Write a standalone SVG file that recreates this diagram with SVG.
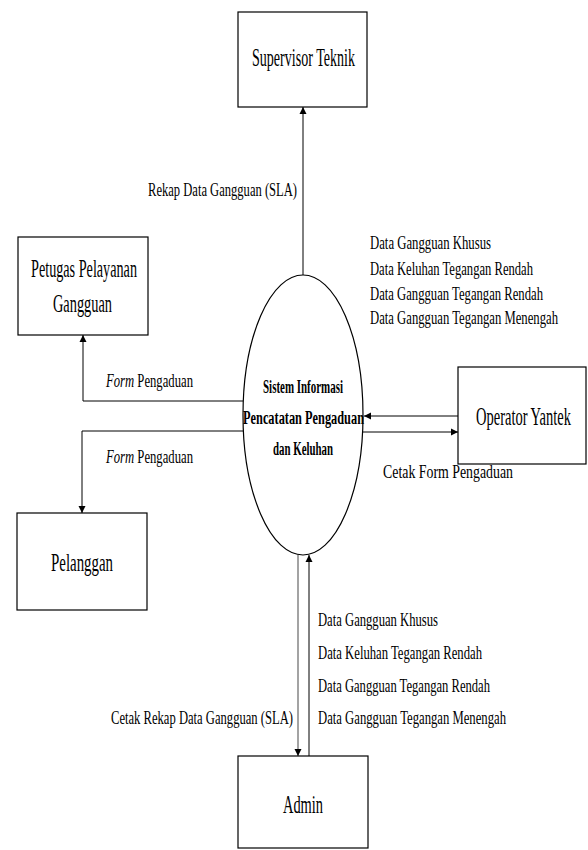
<svg xmlns="http://www.w3.org/2000/svg" width="588" height="850" viewBox="0 0 588 850">
<style>
  .box { fill: #fff; stroke: #000; stroke-width: 1.2; }
  .node { font-family: "Liberation Serif", "Times New Roman", serif; font-size: 25px; fill: #000; }
  .lbl { font-family: "Liberation Serif", "Times New Roman", serif; font-size: 19px; fill: #000; }
  .proc { font-family: "Liberation Serif", "Times New Roman", serif; font-size: 18px; font-weight: bold; fill: #000; }
  .flow { fill: none; stroke: #000; stroke-width: 1; marker-end: url(#arr); }
  .gray { stroke: #8c8c8c; stroke-width: 1.6; }
</style>
<defs>
  <marker id="arr" viewBox="0 0 10 10" refX="10" refY="5" markerWidth="7" markerHeight="8" markerUnits="userSpaceOnUse" orient="auto">
    <path d="M0,0 L10,5 L0,10 z" fill="#000"/>
  </marker>
</defs>
<rect width="588" height="850" fill="#fff"/>

<g id="connectors">
  <line class="flow" x1="303" y1="275" x2="303" y2="107"/>
  <polyline class="flow" points="243,401 83,401 83,335"/>
  <polyline class="flow" points="243,431 82,431 82,513"/>
  <line class="flow" x1="458" y1="416" x2="364" y2="416"/>
  <line class="flow" x1="363" y1="432" x2="458" y2="432"/>
  <line class="flow gray" x1="298" y1="555" x2="298" y2="756"/>
  <line class="flow" x1="309" y1="756" x2="309" y2="555"/>
</g>

<g id="supervisor">
  <rect class="box" x="238" y="12" width="129" height="95"/>
  <text class="node" x="252" y="66" textLength="103" lengthAdjust="spacingAndGlyphs">Supervisor Teknik</text>
</g>

<g id="petugas">
  <rect class="box" x="18" y="237" width="130" height="98"/>
  <text class="node" x="31" y="277" textLength="106" lengthAdjust="spacingAndGlyphs">Petugas Pelayanan</text>
  <text class="node" x="53" y="312" textLength="59" lengthAdjust="spacingAndGlyphs">Gangguan</text>
</g>

<g id="sistem">
  <ellipse cx="303" cy="415" rx="60" ry="140" fill="#fff" stroke="#000" stroke-width="1.2"/>
  <text class="proc" x="263" y="393" textLength="80" lengthAdjust="spacingAndGlyphs">Sistem Informasi</text>
  <text class="proc" x="243" y="424" textLength="121" lengthAdjust="spacingAndGlyphs">Pencatatan Pengaduan</text>
  <text class="proc" x="273" y="455" textLength="60" lengthAdjust="spacingAndGlyphs">dan Keluhan</text>
</g>

<g id="operator">
  <rect class="box" x="458" y="367" width="128" height="97"/>
  <text class="node" x="476" y="425" textLength="95" lengthAdjust="spacingAndGlyphs">Operator Yantek</text>
</g>

<g id="pelanggan">
  <rect class="box" x="17" y="513" width="130" height="97"/>
  <text class="node" x="51" y="571" textLength="62" lengthAdjust="spacingAndGlyphs">Pelanggan</text>
</g>

<g id="admin">
  <rect class="box" x="238" y="756" width="130" height="92"/>
  <text class="node" x="283" y="813" textLength="40" lengthAdjust="spacingAndGlyphs">Admin</text>
</g>

<g id="labels">
  <text class="lbl" x="148" y="196" textLength="149" lengthAdjust="spacingAndGlyphs">Rekap Data Gangguan (SLA)</text>
  <text class="lbl" x="370" y="249" textLength="121" lengthAdjust="spacingAndGlyphs">Data Gangguan Khusus</text>
  <text class="lbl" x="370" y="275" textLength="163" lengthAdjust="spacingAndGlyphs">Data Keluhan Tegangan Rendah</text>
  <text class="lbl" x="370" y="300" textLength="173" lengthAdjust="spacingAndGlyphs">Data Gangguan Tegangan Rendah</text>
  <text class="lbl" x="370" y="324" textLength="188" lengthAdjust="spacingAndGlyphs">Data Gangguan Tegangan Menengah</text>
  <text class="lbl" x="106" y="387" textLength="87" lengthAdjust="spacingAndGlyphs"><tspan font-style="italic">Form</tspan> Pengaduan</text>
  <text class="lbl" x="106" y="463" textLength="87" lengthAdjust="spacingAndGlyphs"><tspan font-style="italic">Form</tspan> Pengaduan</text>
  <text class="lbl" x="383" y="478" textLength="130" lengthAdjust="spacingAndGlyphs">Cetak Form Pengaduan</text>
  <text class="lbl" x="318" y="626" textLength="120" lengthAdjust="spacingAndGlyphs">Data Gangguan Khusus</text>
  <text class="lbl" x="318" y="659" textLength="164" lengthAdjust="spacingAndGlyphs">Data Keluhan Tegangan Rendah</text>
  <text class="lbl" x="318" y="692" textLength="172" lengthAdjust="spacingAndGlyphs">Data Gangguan Tegangan Rendah</text>
  <text class="lbl" x="318" y="724" textLength="188" lengthAdjust="spacingAndGlyphs">Data Gangguan Tegangan Menengah</text>
  <text class="lbl" x="111" y="724" textLength="182" lengthAdjust="spacingAndGlyphs">Cetak Rekap Data Gangguan (SLA)</text>
</g>
</svg>
